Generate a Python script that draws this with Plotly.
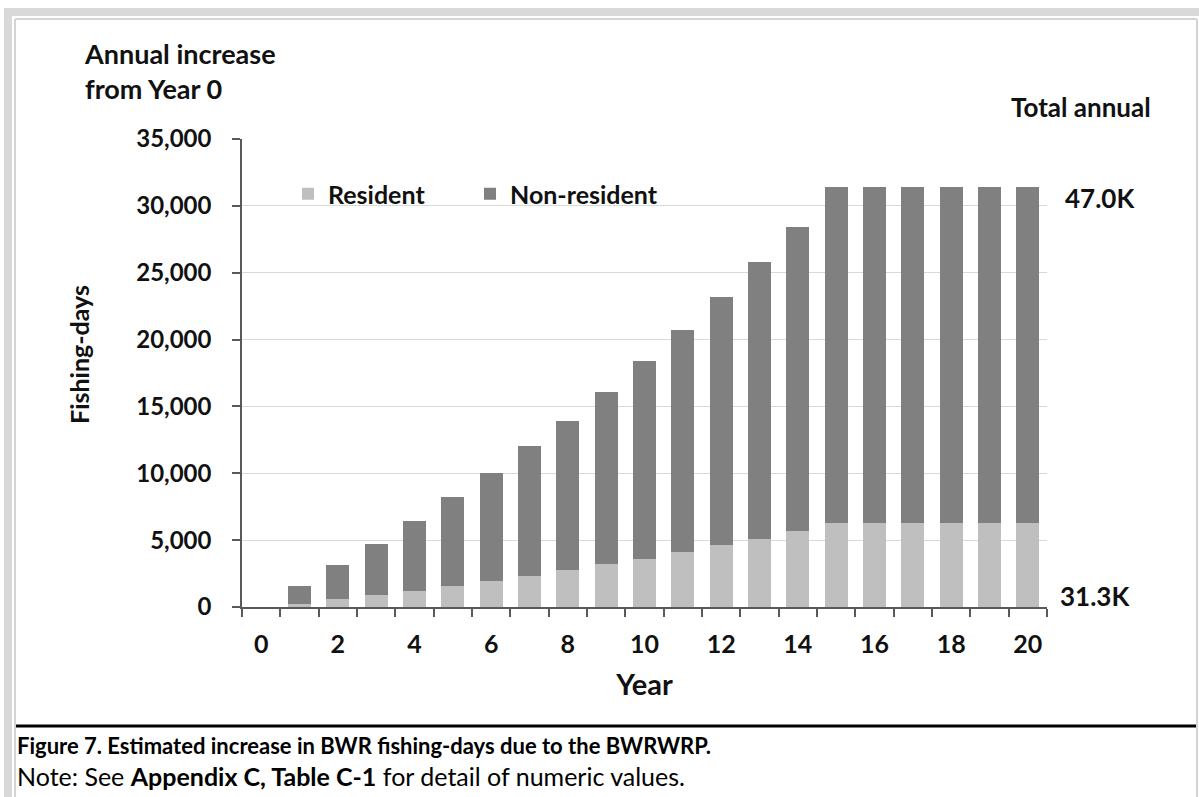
import plotly.graph_objects as go

# ---- data ----
years = list(range(0, 21))
total = [0, 1575, 3125, 4675, 6450, 8200, 10050, 12025, 13875, 16075, 18425,
         20750, 23200, 25825, 28450, 31425, 31425, 31425, 31425, 31425, 31425]
resident = [0, 250, 600, 900, 1175, 1575, 1975, 2350, 2750, 3250, 3625,
            4125, 4600, 5075, 5675, 6250, 6250, 6250, 6250, 6250, 6250]
nonresident = [t - r for t, r in zip(total, resident)]
x_tick_vals = list(range(0, 21, 2))
y_tick_vals = list(range(0, 35001, 5000))

FONT = "Lato"
DARK = "#111111"
AXIS = "#595959"

# plot area in pixels
L, R, T, B = 242, 1047, 139, 607
W_FIG, H_FIG = 1199, 797


def px2x(px):
    return (px - L) / (R - L)


def py2y(py):
    return (B - py) / (B - T)


fig = go.Figure()
fig.add_trace(go.Bar(x=years, y=resident, name="Resident", legend="legend",
                     marker=dict(color="#bfbfbf", line=dict(width=0)), width=0.6))
fig.add_trace(go.Bar(x=years, y=nonresident, name="Non-resident", legend="legend2",
                     marker=dict(color="#808080", line=dict(width=0)), width=0.6))

legend_font = dict(family=FONT, size=25, color=DARK, weight="bold")
fig.update_layout(
    width=W_FIG, height=H_FIG,
    margin=dict(l=L, r=W_FIG - R, t=T, b=H_FIG - B, pad=0),
    paper_bgcolor="white", plot_bgcolor="white",
    barmode="stack",
    font=dict(family=FONT, color=DARK),
    showlegend=True,
    legend=dict(orientation="h", x=px2x(288), y=py2y(194), xanchor="left", yanchor="middle",
                bgcolor="rgba(0,0,0,0)", font=legend_font, itemwidth=30),
    legend2=dict(orientation="h", x=px2x(470), y=py2y(194), xanchor="left", yanchor="middle",
                 bgcolor="rgba(0,0,0,0)", font=legend_font, itemwidth=30),
)

fig.update_xaxes(
    range=[-0.5, 20.5], tickmode="array", tickvals=x_tick_vals,
    ticks="", showgrid=False, zeroline=False,
    showline=True, linecolor=AXIS, linewidth=1.5,
    tickfont=dict(family=FONT, size=25, color=DARK, weight="bold"),
    ticklabelstandoff=14,
    minor=dict(tick0=-0.5, dtick=1, ticks="outside", ticklen=8, tickcolor=AXIS,
               tickwidth=1.5, showgrid=False),
    title=dict(text="Year", font=dict(family=FONT, size=29, color=DARK, weight="bold"),
               standoff=18),
)
fig.update_yaxes(
    range=[0, 35000], tickmode="array", tickvals=y_tick_vals, tickformat=",",
    ticks="outside", ticklen=8, tickcolor=AXIS, tickwidth=1.5,
    showgrid=True, gridcolor="#d9d9d9", gridwidth=1, zeroline=False,
    showline=True, linecolor=AXIS, linewidth=1.5,
    tickfont=dict(family=FONT, size=24, color=DARK, weight="bold"),
    ticklabelstandoff=16,
)

annotations = [
    dict(text="Annual increase<br>from Year 0", x=px2x(82), y=py2y(71), xanchor="left",
         yanchor="middle", align="left",
         font=dict(family=FONT, size=27, color=DARK, weight="bold")),
    dict(text="Fishing-days", x=px2x(79), y=py2y(355), textangle=-90,
         xanchor="center", yanchor="middle",
         font=dict(family=FONT, size=25, color=DARK, weight="bold")),
    dict(text="Total annual", x=px2x(1081), y=py2y(107), xanchor="center", yanchor="middle",
         font=dict(family=FONT, size=26, color=DARK, weight="bold")),
    dict(text="47.0K", x=px2x(1100), y=py2y(198), xanchor="center", yanchor="middle",
         font=dict(family=FONT, size=26, color=DARK, weight="bold")),
    dict(text="31.3K", x=px2x(1095), y=py2y(596), xanchor="center", yanchor="middle",
         font=dict(family=FONT, size=26, color=DARK, weight="bold")),
    dict(text="Figure 7. Estimated increase in BWR fishing-days due to the BWRWRP.",
         x=px2x(15), y=py2y(745), xanchor="left", yanchor="middle",
         font=dict(family=FONT, size=22, color="#000000", weight="bold")),
    dict(text="Note: See <b>Appendix C, Table C-1</b> for detail of numeric values.",
         x=px2x(15), y=py2y(776), xanchor="left", yanchor="middle",
         font=dict(family=FONT, size=25, color="#000000")),
]
for a in annotations:
    a.update(xref="paper", yref="paper", showarrow=False)
fig.update_layout(annotations=annotations)

shapes = [
    # outer grey band (left and top)
    dict(type="rect", x0=px2x(4), x1=px2x(12), y0=py2y(8), y1=py2y(800),
         fillcolor="#d9d9d9", line=dict(width=0)),
    dict(type="rect", x0=px2x(4), x1=px2x(1200), y0=py2y(8), y1=py2y(16),
         fillcolor="#d9d9d9", line=dict(width=0)),
    # inner thin frame
    dict(type="line", x0=px2x(15), x1=px2x(15), y0=py2y(19), y1=py2y(800),
         line=dict(color="#d4d4d4", width=2)),
    dict(type="line", x0=px2x(15), x1=px2x(1197), y0=py2y(19), y1=py2y(19),
         line=dict(color="#d4d4d4", width=2)),
    dict(type="line", x0=px2x(1197), x1=px2x(1197), y0=py2y(19), y1=py2y(800),
         line=dict(color="#d4d4d4", width=2)),
    # caption separator
    dict(type="line", x0=px2x(16), x1=px2x(1196), y0=py2y(726), y1=py2y(726),
         line=dict(color="#000000", width=3)),
]
for s in shapes:
    s.update(xref="paper", yref="paper", layer="above")
fig.update_layout(shapes=shapes)

fig.write_html("out.html", config={"displayModeBar": False},
               post_script="document.body.style.margin='0px';document.body.style.overflow='hidden';")
